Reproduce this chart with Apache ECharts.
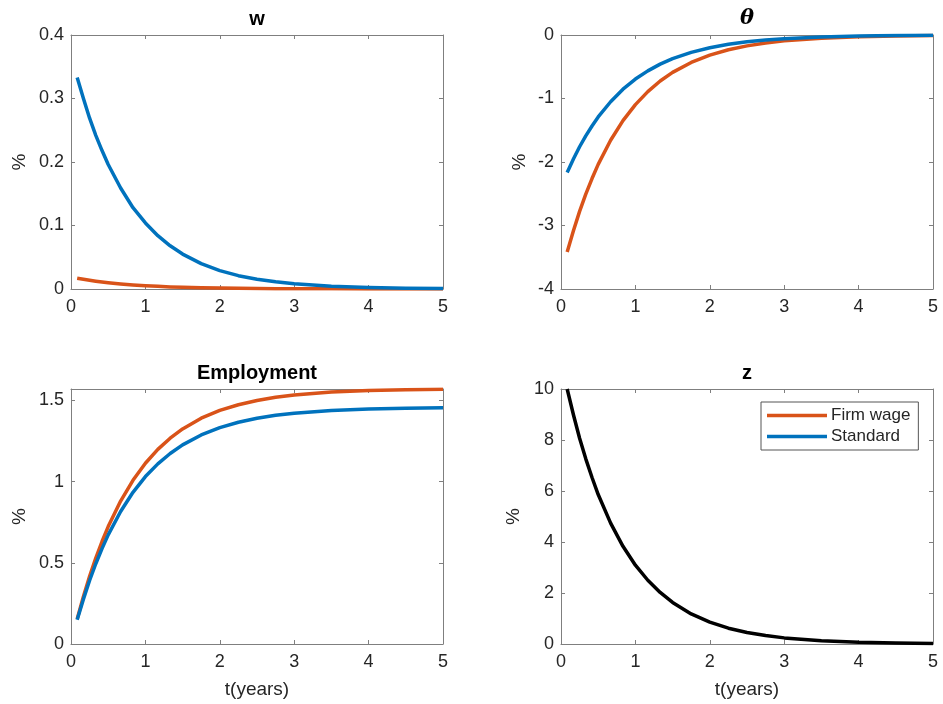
<!DOCTYPE html>
<html>
<head>
<meta charset="utf-8">
<title>Impulse responses</title>
<script src="https://cdn.jsdelivr.net/npm/echarts@6/dist/echarts.min.js"></script>
<style>
  html, body { margin: 0; padding: 0; background: #fff; }
  #chart { width: 943px; height: 704px; }
</style>
</head>
<body>
<div id="chart"></div>
<script>
// Time after the shock, in years (monthly steps early on, coarser later)
const t = [0.083, 0.167, 0.25, 0.333, 0.417, 0.5, 0.667, 0.833, 1.0, 1.167, 1.333, 1.5,
           1.75, 2.0, 2.25, 2.5, 2.75, 3.0, 3.5, 4.0, 4.5, 5.0];

// Wage response (%)
const wFirm = [0.0170, 0.0153, 0.0137, 0.0123, 0.0110, 0.0099, 0.0080, 0.0064, 0.0052, 0.0042, 0.0033, 0.0027,
               0.0019, 0.0014, 0.0010, 0.0007, 0.0005, 0.0004, 0.0002, 0.0001, 0.0001, 0.0000];
const wStd = [0.333, 0.300, 0.269, 0.242, 0.218, 0.196, 0.159, 0.128, 0.104, 0.084, 0.068, 0.055,
              0.040, 0.029, 0.021, 0.0155, 0.0113, 0.0082, 0.0043, 0.0023, 0.0012, 0.0006];

// Market tightness response (%)
const thetaFirm = [-3.417, -3.083, -2.778, -2.506, -2.261, -2.038, -1.658, -1.348, -1.096, -0.892, -0.725, -0.589,
                   -0.432, -0.317, -0.233, -0.171, -0.125, -0.092, -0.050, -0.027, -0.014, -0.008];
const thetaStd = [-2.165, -1.953, -1.760, -1.588, -1.433, -1.291, -1.051, -0.854, -0.694, -0.565, -0.459, -0.373,
                  -0.274, -0.201, -0.147, -0.108, -0.079, -0.058, -0.031, -0.017, -0.009, -0.005];

// Employment response (%)
const empFirm = [0.154, 0.292, 0.417, 0.529, 0.631, 0.723, 0.880, 1.008, 1.113, 1.198, 1.267, 1.324,
                 1.390, 1.438, 1.473, 1.499, 1.519, 1.533, 1.551, 1.561, 1.566, 1.569];
const empStd = [0.150, 0.276, 0.391, 0.494, 0.587, 0.672, 0.816, 0.934, 1.031, 1.109, 1.173, 1.226,
                1.287, 1.332, 1.365, 1.390, 1.408, 1.421, 1.438, 1.447, 1.452, 1.455];

// Shock path z (%)
const zPath = [10, 8.99, 8.07, 7.26, 6.53, 5.86, 4.74, 3.83, 3.09, 2.50, 2.02, 1.63,
               1.18, 0.86, 0.62, 0.45, 0.33, 0.24, 0.13, 0.066, 0.035, 0.018];

// Panel titles, axis names and per-panel y ranges
const panelTitles = ['w', 'θ', 'Employment', 'z'];
const yLabel = '%';
const xLabel = 't(years)';
const yRanges = [
  { min: 0, max: 0.4, interval: 0.1 },
  { min: -4, max: 0, interval: 1 },
  { min: 0, max: 1.57, interval: 0.5 },
  { min: 0, max: 10, interval: 2 }
];
const seriesNames = ['Firm wage', 'Standard'];

const COLOR_FIRM = '#D95319';
const COLOR_STD = '#0072BD';
const TEXT = '#262626';
const FRAME = '#7f7f7f';
const FONT = 'Liberation Sans, Arial, Helvetica, sans-serif';

const grids = [
  { left: 71, top: 35, width: 372, height: 254 },
  { left: 561, top: 35, width: 372, height: 254 },
  { left: 71, top: 389, width: 372, height: 255 },
  { left: 561, top: 389, width: 372, height: 255 }
];
// distance of the "%" label from each panel's left edge
const yNameGaps = [42, 32, 42, 38];

function pairs(ys) { return t.map((x, i) => [x, ys[i]]); }

const frameLine = { show: true, onZero: false, lineStyle: { color: FRAME, width: 1 } };
const frameTick = { show: true, inside: true, length: 4, lineStyle: { color: FRAME } };

const xAxes = [];
const yAxes = [];
grids.forEach((g, i) => {
  const showName = i >= 2;
  xAxes.push({
    type: 'value', gridIndex: i, min: 0, max: 5, interval: 1, position: 'bottom',
    axisLine: frameLine, axisTick: frameTick,
    axisLabel: { color: TEXT, fontSize: 18, fontFamily: FONT, margin: 9 },
    splitLine: { show: false },
    name: showName ? xLabel : '', nameLocation: 'middle', nameGap: 36,
    nameTextStyle: { color: TEXT, fontSize: 19, fontFamily: FONT }
  });
  const r = yRanges[i];
  yAxes.push({
    type: 'value', gridIndex: i, min: r.min, max: r.max, interval: r.interval, position: 'left',
    axisLine: frameLine, axisTick: frameTick,
    axisLabel: { color: TEXT, fontSize: 18, fontFamily: FONT, margin: 7, showMaxLabel: i !== 2 },
    splitLine: { show: false },
    name: yLabel, nameLocation: 'middle', nameRotate: 90,
    nameGap: yNameGaps[i],
    nameTextStyle: { color: TEXT, fontSize: 19, fontFamily: FONT }
  });
});
// Mirrored tick marks on the top and right edges of every panel
grids.forEach((g, i) => {
  const r = yRanges[i];
  xAxes.push({
    type: 'value', gridIndex: i, min: 0, max: 5, interval: 1, position: 'top',
    axisLine: frameLine, axisTick: frameTick,
    axisLabel: { show: false }, splitLine: { show: false }
  });
  yAxes.push({
    type: 'value', gridIndex: i, min: r.min, max: r.max, interval: r.interval, position: 'right',
    axisLine: frameLine, axisTick: frameTick,
    axisLabel: { show: false }, splitLine: { show: false }
  });
});

function line(name, data, color, idx) {
  return {
    name: name, type: 'line', xAxisIndex: idx, yAxisIndex: idx,
    data: pairs(data), showSymbol: false, symbol: 'none',
    smooth: false, clip: true,
    lineStyle: { color: color, width: 3.5, join: 'round', cap: 'butt' },
    itemStyle: { color: color },
    emphasis: { disabled: true }, animation: false
  };
}

const series = [
  line(seriesNames[0], wFirm, COLOR_FIRM, 0),
  line(seriesNames[1], wStd, COLOR_STD, 0),
  line(seriesNames[0], thetaFirm, COLOR_FIRM, 1),
  line(seriesNames[1], thetaStd, COLOR_STD, 1),
  line(seriesNames[0], empFirm, COLOR_FIRM, 2),
  line(seriesNames[1], empStd, COLOR_STD, 2),
  line('z', zPath, '#000000', 3)
];

const titleGraphics = panelTitles.map((txt, i) => {
  const g = grids[i];
  const isTheta = i === 1;
  return {
    type: 'text',
    x: g.left + g.width / 2,
    y: g.top - 16,
    style: {
      text: txt,
      fill: '#000',
      font: isTheta ? 'italic bold 21px "DejaVu Serif", "Liberation Serif", serif'
                    : 'bold 20px ' + FONT,
      textAlign: 'center',
      textVerticalAlign: 'middle'
    }
  };
});

const chart = echarts.init(document.getElementById('chart'), null, { renderer: 'canvas' });
chart.setOption({
  animation: false,
  backgroundColor: '#ffffff',
  grid: grids.map(g => Object.assign({ show: false, containLabel: false }, g)),
  xAxis: xAxes,
  yAxis: yAxes,
  series: series,
  legend: {
    data: seriesNames,
    orient: 'vertical',
    left: 761, top: 402,
    selectedMode: false,
    icon: 'rect',
    itemWidth: 60, itemHeight: 3.5, itemGap: 4,
    padding: [5, 8, 5, 6],
    backgroundColor: '#ffffff',
    borderColor: '#555555', borderWidth: 1,
    textStyle: { color: TEXT, fontSize: 17, fontFamily: FONT, padding: [0, 0, 0, -1] }
  },
  graphic: titleGraphics
});
</script>
</body>
</html>
